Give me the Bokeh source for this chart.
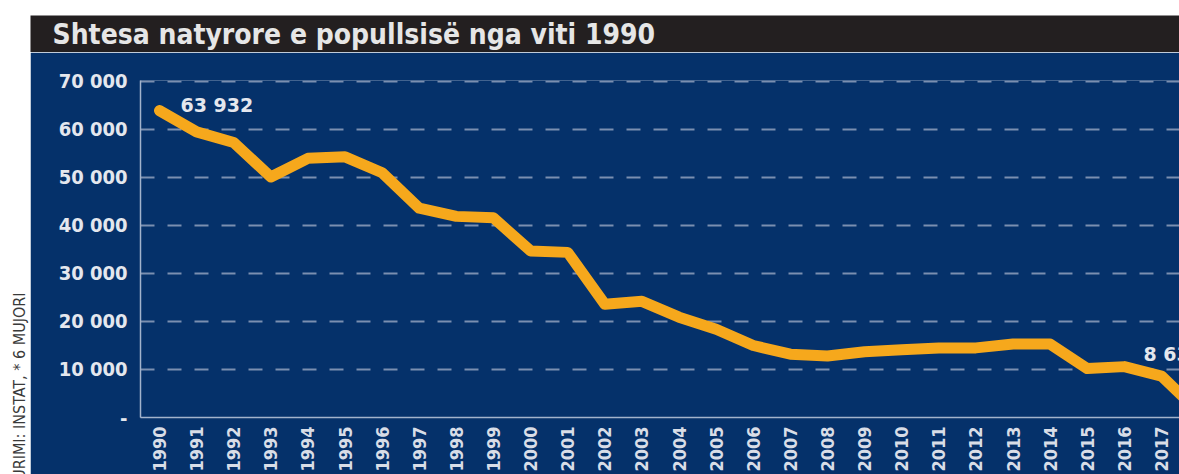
from math import pi
from bokeh.plotting import figure
from bokeh.layouts import column, row
from bokeh.models import Label, FixedTicker, ColumnDataSource, Range1d
from bokeh.core.properties import value
from bokeh.embed import file_html
from bokeh.resources import INLINE

# ---------------- data ----------------
years = list(range(1990, 2019))
natural_increase = [63932, 59500, 57300, 50100, 54000, 54300, 51000, 43600, 41900, 41600,
                    34700, 34400, 23600, 24200, 20900, 18400, 15000, 13200, 12800, 13700,
                    14100, 14500, 14500, 15300, 15300, 10200, 10600, 8633, 1200]
year_labels = [str(y) for y in years[:-1]] + ["2018*"]
y_ticks = [0, 10000, 20000, 30000, 40000, 50000, 60000, 70000]
y_tick_labels = ["-", "10 000", "20 000", "30 000", "40 000", "50 000", "60 000", "70 000"]
title_text = "Shtesa natyrore e popullsisë nga viti 1990"
source_text = "BURIMI: INSTAT, * 6 MUJORI"

# ---------------- style ----------------
NAVY = "#05316a"
BLACK = "#231f20"
ORANGE = "#f6a81c"
GRID = "#7b8fb0"
AXIS = "#a3b3cc"
TXT = "#e4e7ee"
COND = "DejaVu Sans Condensed"


def bare(fig):
    fig.xgrid.visible = False
    fig.ygrid.visible = False
    return fig


# ---- left white strip with the source note ----
s = bare(figure(width=30, height=474, x_range=Range1d(0, 30), y_range=Range1d(0, 474),
                x_axis_location=None, y_axis_location=None,
                output_backend="svg", toolbar_location=None,
                min_border_left=0, min_border_right=0, min_border_top=0, min_border_bottom=0,
                border_fill_color="white", background_fill_color="white", outline_line_color=None))
s.add_layout(Label(x=18.5, y=182, text=source_text, angle=pi / 2,
                   text_font=COND, text_font_size="16px",
                   text_color="#3a3a3a", text_baseline="middle", text_align="right"))

# ---- title bar ----
t = bare(figure(width=1149, height=52, x_range=Range1d(0, 1149), y_range=Range1d(0, 37),
                x_axis_location=None, y_axis_location=None,
                output_backend="svg", toolbar_location=None,
                min_border_left=0, min_border_right=0, min_border_top=15, min_border_bottom=0,
                border_fill_color="white", background_fill_color=BLACK, outline_line_color=None))
t.add_layout(Label(x=22, y=18, text=title_text, text_font=COND,
                   text_font_style="bold", text_font_size="28px", text_color="#e6e6e6",
                   text_baseline="middle", text_align="left"))

# ---- main chart ----
p = figure(width=1149, height=422, x_range=Range1d(1989.488, 2017.485), y_range=Range1d(0, 70207),
           output_backend="svg", toolbar_location=None,
           min_border_left=110, min_border_right=0, min_border_top=28, min_border_bottom=55,
           border_fill_color=NAVY, background_fill_color=NAVY, outline_line_color=None)

p.yaxis.ticker = FixedTicker(ticks=y_ticks)
p.yaxis.major_label_overrides = {tk: lb for tk, lb in zip(y_ticks, y_tick_labels)}
p.xaxis.ticker = FixedTicker(ticks=years)
p.xaxis.major_label_overrides = {y: lb for y, lb in zip(years, year_labels)}
p.xaxis.major_label_orientation = pi / 2
for ax in (p.xaxis, p.yaxis):
    ax.axis_line_color = AXIS
    ax.axis_line_width = 1.5
    ax.major_tick_line_color = None
    ax.minor_tick_line_color = None
    ax.major_tick_out = 0
    ax.major_tick_in = 0
    ax.major_label_text_color = TXT
    ax.major_label_text_font = COND
    ax.major_label_text_font_style = "bold"
p.xaxis.major_label_text_color = "#d8dde7"
p.yaxis.major_label_text_font_size = "20px"
p.yaxis.major_label_standoff = 13
p.xaxis.major_label_text_font_size = "18px"
p.xaxis.major_label_standoff = 9

p.xgrid.visible = False
p.ygrid.grid_line_color = GRID
p.ygrid.grid_line_width = 2
p.ygrid.grid_line_dash = "14 13"

p.line(years, natural_increase, line_color=ORANGE, line_width=11,
       line_join="round", line_cap="round")

fmt = lambda v: f"{v:,}".replace(",", " ")
lab = ColumnDataSource(dict(x=[years[0], years[-2]], y=[natural_increase[0], natural_increase[-2]],
                            t=[fmt(natural_increase[0]), fmt(natural_increase[-2])],
                            xo=[21, -18], yo=[-6, -22]))
p.text(x="x", y="y", text="t", x_offset="xo", y_offset="yo", source=lab,
       text_font=value("DejaVu Sans"), text_font_style="bold", text_font_size="19px",
       text_color=TXT, text_baseline="middle", text_align="left")

layout = row(s, column(t, row(p)))
open("out.html", "w").write(file_html(layout, INLINE))
